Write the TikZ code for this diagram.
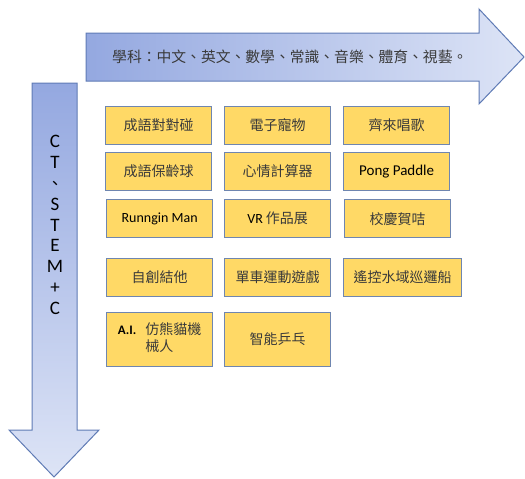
\documentclass[tikz,border=0pt]{standalone}
\usepackage{fontspec}
\newfontfamily\cjk{Noto Sans CJK TC}
\newfontfamily\carl{Carlito}
\definecolor{boxfill}{HTML}{FFD966}
\definecolor{boxline}{HTML}{6F86B0}
\definecolor{arrA}{HTML}{94A8E0}
\definecolor{arrB}{HTML}{DDE4F6}
\definecolor{arrline}{HTML}{5F7BB5}
\definecolor{txt}{HTML}{3A3A3A}
\begin{document}
\begin{tikzpicture}[x=1pt,y=-1pt,
  itembox/.style={draw=boxline,line width=1.3pt,fill=boxfill,minimum width=106pt,minimum height=38pt,inner sep=2pt,text=txt,font=\cjk\fontsize{14}{16}\selectfont,anchor=north west},
  arrowshape/.style={draw=arrline,line width=1pt}]
\useasboundingbox (0,0) rectangle (525,479);
% horizontal arrow
\draw[arrowshape,left color=arrA,right color=arrB] (86,33) -- (479,33) -- (479,9) -- (524,57) -- (479,104) -- (479,81) -- (86,81) -- cycle;
\node[text=txt,font=\cjk\fontsize{14.8}{16}\selectfont,anchor=west,inner sep=0pt] (subj) at (112,57) {學科：中文、英文、數學、常識、音樂、體育、視藝。};
% vertical arrow
\draw[arrowshape,top color=arrA,bottom color=arrB] (32,83) -- (77,83) -- (77,430) -- (99,430) -- (54,477) -- (9,430) -- (32,430) -- cycle;
\node[text=black,font=\carl\fontsize{19}{20.8}\selectfont,align=center,anchor=north] (ct) at (55,132) {C\\T\\{\cjk\fontsize{16}{20.8}\selectfont 、}\\S\\T\\E\\M\\+\\C};
% boxes
\node[itembox] (b11) at (105,106) {成語對對碰};
\node[itembox] (b12) at (224,106) {電子寵物};
\node[itembox] (b13) at (343,106) {齊來唱歌};
\node[itembox] (b21) at (105,152) {成語保齡球};
\node[itembox] (b22) at (224,152) {心情計算器};
\node[itembox,font=\carl\fontsize{15}{17}\selectfont,text=black] (b23) at (343,152) {Pong Paddle};
\node[itembox,font=\carl\fontsize{14}{16}\selectfont,text=black] (b31) at (106,199) {Runngin Man};
\node[itembox] (b32) at (224,199) {{\carl\color{black}VR} 作品展};
\node[itembox] (b33) at (344,199) {校慶賀咭};
\node[itembox] (b41) at (106,258) {自創結他};
\node[itembox] (b42) at (224,258) {單車運動遊戲};
\node[itembox,minimum width=118pt] (b43) at (343,258) {遙控水域巡邏船};
\node[itembox,minimum height=54pt] (b51) at (106,312) {\renewcommand{\arraystretch}{1.05}\begin{tabular}{@{}l@{\hspace{9pt}}l@{}}{\carl\bfseries\color{black}\fontsize{13}{16}\selectfont A.I.} & 仿熊貓機\\ & 械人\end{tabular}};
\node[itembox,minimum height=54pt] (b52) at (224,312) {智能乒乓};
\end{tikzpicture}
\end{document}
